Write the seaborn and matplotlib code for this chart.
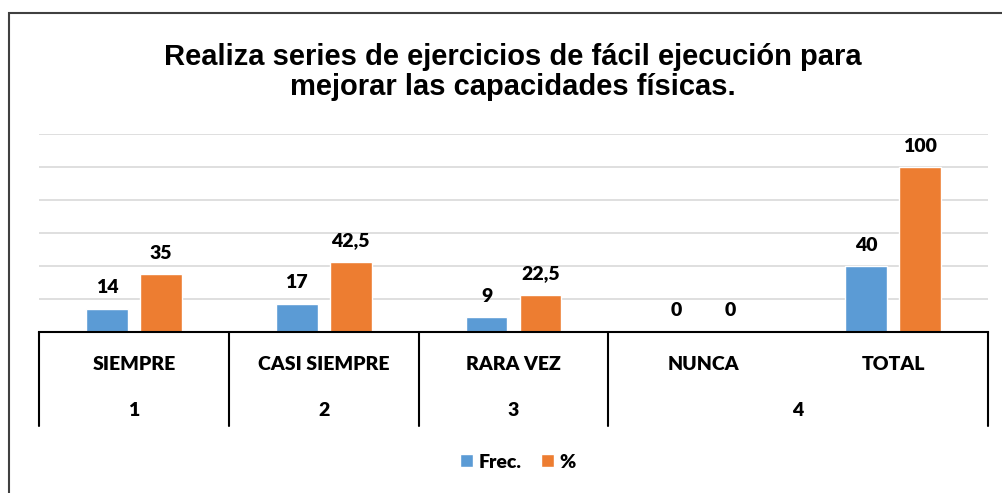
import matplotlib
matplotlib.use("Agg")
import matplotlib.pyplot as plt
import matplotlib.transforms as mtransforms
from matplotlib.patches import Rectangle
import pandas as pd
import seaborn as sns

CATEGORIES = ["SIEMPRE", "CASI SIEMPRE", "RARA VEZ", "NUNCA", "TOTAL"]
GROUPS = ["1", "2", "3", "4", "4"]
FREC = [14, 17, 9, 0, 40]
PCT = [35, 42.5, 22.5, 0, 100]
SERIES = ["Frec.", "%"]
COLORS = ["#5B9BD5", "#ED7D31"]
TITLE = "Realiza series de ejercicios de fácil ejecución para\nmejorar las capacidades físicas."

sns.set_theme(style="white")
plt.rcParams["font.family"] = ["Lato", "DejaVu Sans"]
plt.rcParams["text.color"] = "black"

LABEL_SIZE = 14
WEIGHT = "heavy"

df = pd.DataFrame({
    "categoria": CATEGORIES * 2,
    "serie": [SERIES[0]] * len(CATEGORIES) + [SERIES[1]] * len(CATEGORIES),
    "valor": FREC + PCT,
})

fig = plt.figure(figsize=(10.03, 4.93), dpi=100)
ax = fig.add_axes([39 / 1003, 1 - 332 / 493, 949 / 1003, 198 / 493])

sns.barplot(data=df, x="categoria", y="valor", hue="serie", order=CATEGORIES,
            hue_order=SERIES, palette=COLORS, width=0.568, gap=0.225,
            saturation=1, ax=ax, legend=True)

ax.set_xlim(-0.5, len(CATEGORIES) - 0.5)
ax.set_ylim(0, 120)
ax.set_yticks(range(0, 121, 20))
ax.yaxis.grid(True, color="#D9D9D9", linewidth=1.2)
ax.set_axisbelow(True)
ax.tick_params(left=False, labelleft=False, bottom=False, labelbottom=False)
for side in ["left", "right", "top"]:
    ax.spines[side].set_visible(False)
ax.spines["bottom"].set_color("black")
ax.spines["bottom"].set_linewidth(1.5)
ax.set_xlabel("")
ax.set_ylabel("")

def fmt(v):
    return f"{v:g}".replace(".", ",")

for cont, vals in zip(ax.containers, [FREC, PCT]):
    ax.bar_label(cont, labels=[fmt(v) for v in vals], padding=9,
                 fontsize=LABEL_SIZE, fontweight=WEIGHT, color="black")

# two-level category axis
trans = mtransforms.blended_transform_factory(ax.transData, fig.transFigure)
y_top = 1 - 332 / 493
y_bot = 1 - 426 / 493
y_lvl1 = 1 - 364 / 493
y_lvl2 = 1 - 410 / 493
for i, cat in enumerate(CATEGORIES):
    ax.text(i, y_lvl1, cat, transform=trans, ha="center", va="center",
            fontsize=LABEL_SIZE, fontweight=WEIGHT, color="black")
bounds = [-0.5]
group_spans = []
start = 0
for i in range(1, len(GROUPS) + 1):
    if i == len(GROUPS) or GROUPS[i] != GROUPS[start]:
        group_spans.append((GROUPS[start], start, i - 1))
        bounds.append(i - 0.5)
        start = i
for name, a, b in group_spans:
    ax.text((a + b) / 2, y_lvl2, name, transform=trans, ha="center", va="center",
            fontsize=LABEL_SIZE, fontweight=WEIGHT, color="black")
for x in bounds:
    ax.plot([x, x], [y_top, y_bot], transform=trans, color="black",
            linewidth=1.5, clip_on=False)

leg = ax.legend(loc="center", bbox_to_anchor=(518 / 1003, 1 - 462 / 493),
                bbox_transform=fig.transFigure, ncol=2, frameon=False,
                handlelength=0.65, handleheight=0.65, handletextpad=0.3,
                columnspacing=1.0, prop={"weight": WEIGHT, "size": LABEL_SIZE})
for t in leg.get_texts():
    t.set_color("black")

fig.text(513 / 1003, 1 - 72 / 493, TITLE, ha="center", va="center",
         fontsize=21, fontweight="bold", family=["Liberation Sans", "DejaVu Sans"],
         linespacing=1.1, color="black")

fig.patches.append(Rectangle((9 / 1003, -0.1), 1.2, 1 - 13 / 493 + 0.1,
                             transform=fig.transFigure, fill=False,
                             edgecolor="#404040", linewidth=1.5))

fig.savefig("out.png", dpi=100)
